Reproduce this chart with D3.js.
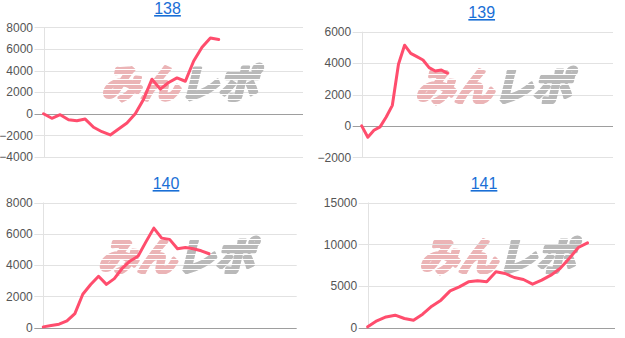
<!DOCTYPE html>
<html><head><meta charset="utf-8">
<script src="https://cdn.jsdelivr.net/npm/d3@7"></script>
<style>
html,body{margin:0;padding:0;background:#fff;}
svg{display:block;}
</style></head>
<body>
<svg id="c" width="625" height="338"></svg>
<script>
// ---- data ----
const titles = ["138", "139", "140", "141"];
const values138 = [0, -420, -90, -550, -640, -490, -1250, -1660, -1960, -1410, -860, 0, 1350, 3200, 2280, 2890, 3320, 3010, 4880, 6150, 7010, 6880];
const values139 = [0, -720, -280, -60, 570, 1310, 3930, 5140, 4620, 4410, 4200, 3710, 3500, 3560, 3350];
const values140 = [40, 130, 210, 420, 890, 2130, 2750, 3280, 2760, 3130, 3790, 4260, 4560, 5480, 6360, 5720, 5640, 5040, 5120, 5040, 4910, 4720];
const values141 = [80, 800, 1270, 1480, 1080, 880, 1600, 2560, 3280, 4400, 4880, 5480, 5600, 5480, 6680, 6480, 6000, 5760, 5200, 5680, 6280, 7080, 8280, 9600, 10160];
const ticks138 = [-4000, -2000, 0, 2000, 4000, 6000, 8000];
const ticks139 = [-2000, 0, 2000, 4000, 6000];
const ticks140 = [0, 2000, 4000, 6000, 8000];
const ticks141 = [0, 5000, 10000, 15000];
const xMax = [31.1, 41, 32.1, 27];   // hidden x axis extent (in data steps)

// ---- layout ----
const layout = [
  {left: 43.5, right: 303, top: 27.3, bottom: 157, tx: 167.5, ty: 14},
  {left: 361.7, right: 613, top: 31.7, bottom: 157.3, tx: 481.7, ty: 18},
  {left: 43.3, right: 296.7, top: 202.5, bottom: 327.5, tx: 166, ty: 189},
  {left: 367.7, right: 615, top: 202.5, bottom: 327.5, tx: 484, ty: 189}
];
const seriesList = [values138, values139, values140, values141];
const tickList = [ticks138, ticks139, ticks140, ticks141];

const svg = d3.select("#c");
const defs = svg.append("defs");
const pat = defs.append("pattern").attr("id", "stripes").attr("patternUnits", "userSpaceOnUse")
  .attr("width", 10).attr("height", 5);
pat.append("rect").attr("width", 10).attr("height", 5).attr("fill", "#fff");
pat.append("rect").attr("y", 4).attr("width", 10).attr("height", 1).attr("fill", "#000");
const mask = defs.append("mask").attr("id", "stripeMask").attr("maskUnits", "userSpaceOnUse")
  .attr("x", 0).attr("y", 0).attr("width", 625).attr("height", 338);
mask.append("rect").attr("width", 625).attr("height", 338).attr("fill", "url(#stripes)");

titles.forEach((t, i) => {
  const L = layout[i];
  const ticks = tickList[i];
  const vals = seriesList[i];
  const g = svg.append("g");
  const y = d3.scaleLinear().domain([d3.min(ticks), d3.max(ticks)]).range([L.bottom, L.top]);
  const x = d3.scaleLinear().domain([0, xMax[i]]).range([L.left, L.right]);

  // title
  g.append("text").attr("x", L.tx).attr("y", L.ty).attr("text-anchor", "middle")
    .attr("font-family", "Liberation Sans, Arial, sans-serif").attr("font-size", 16)
    .attr("fill", "#1a6fd6").attr("text-decoration", "underline").text(t);

  // gridlines
  g.selectAll("line.grid").data(ticks).enter().append("line")
    .attr("x1", L.left - 9).attr("x2", L.right)
    .attr("y1", d => Math.round(y(d)) + 0.5).attr("y2", d => Math.round(y(d)) + 0.5)
    .attr("stroke", d => d === 0 ? "#9e9e9e" : "#e2e2e2").attr("stroke-width", 1);
  g.append("line").attr("x1", Math.round(L.left) + 0.5).attr("x2", Math.round(L.left) + 0.5)
    .attr("y1", L.top).attr("y2", L.bottom).attr("stroke", "#e2e2e2");

  // y axis labels via d3 axis
  const axis = d3.axisLeft(y).tickValues(ticks).tickSize(0).tickPadding(0).tickFormat(d3.format("d"));
  const ag = g.append("g").attr("transform", `translate(${L.left - 10.5},0)`).call(axis);
  ag.select(".domain").remove();
  ag.selectAll("text").attr("font-family", "Liberation Sans, Arial, sans-serif")
    .attr("font-size", 12).attr("fill", "#555");

  // watermark logo
  const cx = (L.left + L.right) / 2 + 6;
  const cy = (L.top + L.bottom) / 2 - 7;
  const lg = g.append("g").attr("mask", "url(#stripeMask)");
  const inner = lg.append("g").attr("transform", `translate(${cx},${cy + 13}) skewX(-14)`);
  inner.append("text").attr("x", 0).attr("text-anchor", "end")
    .attr("font-family", "Noto Sans CJK JP, sans-serif").attr("font-weight", 700)
    .attr("font-size", 39).attr("fill", "#ebb4b6").attr("stroke", "#ebb4b6")
    .attr("stroke-width", 3.5).attr("stroke-linejoin", "round")
    .text("みん");
  inner.append("text").attr("x", 0).attr("text-anchor", "start")
    .attr("font-family", "Noto Sans CJK JP, sans-serif").attr("font-weight", 700)
    .attr("font-size", 39).attr("fill", "#b9b9b9").attr("stroke", "#b9b9b9")
    .attr("stroke-width", 3.5).attr("stroke-linejoin", "round")
    .text("レポ");

  // series line
  const line = d3.line().x((d, j) => x(j)).y(d => y(d));
  g.append("path").datum(vals).attr("d", line).attr("fill", "none")
    .attr("stroke", "#ff4d6d").attr("stroke-width", 3)
    .attr("stroke-linejoin", "round").attr("stroke-linecap", "round");
});
</script>
</body></html>
